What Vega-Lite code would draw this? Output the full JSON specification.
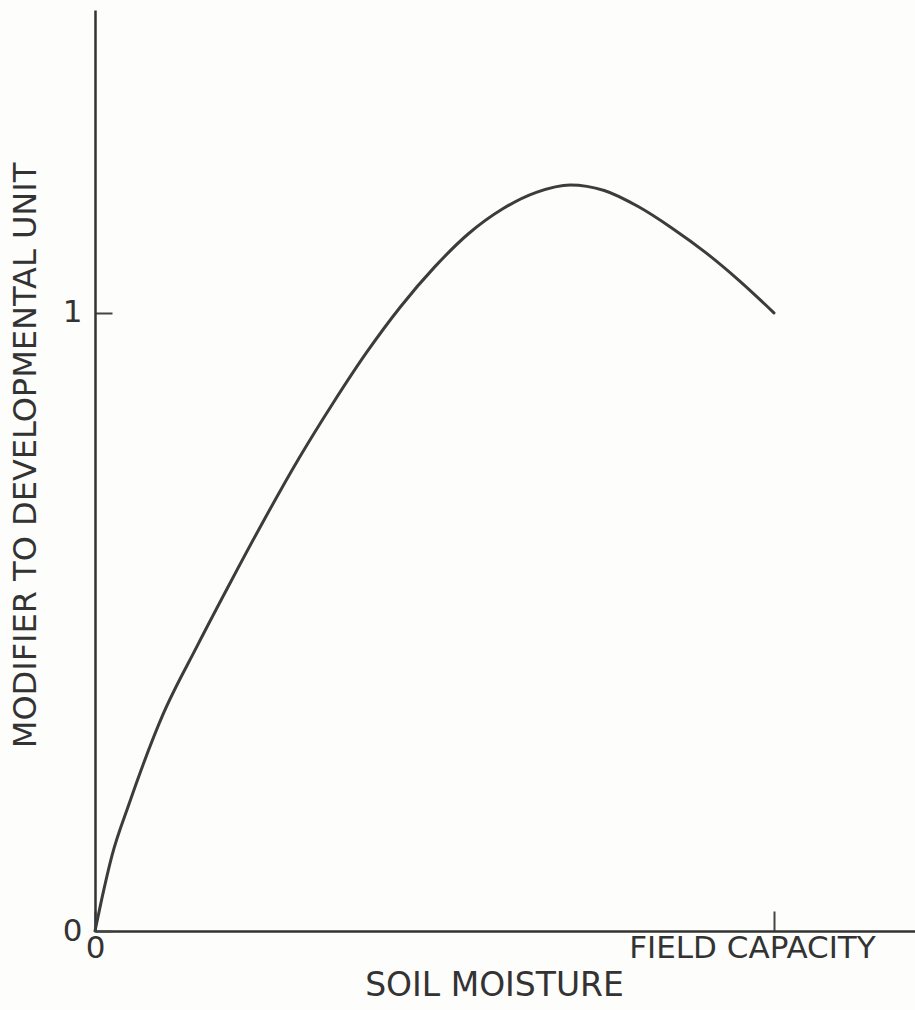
{
  "$schema": "https://vega.github.io/schema/vega-lite/v6.json",
  "width": 820,
  "height": 921,
  "autosize": {"type": "none"},
  "padding": {"left": 95, "top": 10, "right": 0, "bottom": 79},
  "background": "#fdfdfb",
  "config": {"view": {"stroke": null}},
  "data": {"values": [
    {"moisture": 0.0, "modifier": 0.0},
    {"moisture": 0.01, "modifier": 0.052},
    {"moisture": 0.025, "modifier": 0.122},
    {"moisture": 0.05, "modifier": 0.205},
    {"moisture": 0.1, "modifier": 0.35},
    {"moisture": 0.15, "modifier": 0.46},
    {"moisture": 0.2, "modifier": 0.565},
    {"moisture": 0.25, "modifier": 0.667},
    {"moisture": 0.3, "modifier": 0.764},
    {"moisture": 0.35, "modifier": 0.853},
    {"moisture": 0.4, "modifier": 0.936},
    {"moisture": 0.45, "modifier": 1.01},
    {"moisture": 0.5, "modifier": 1.074},
    {"moisture": 0.55, "modifier": 1.128},
    {"moisture": 0.6, "modifier": 1.168},
    {"moisture": 0.65, "modifier": 1.195},
    {"moisture": 0.7, "modifier": 1.207},
    {"moisture": 0.75, "modifier": 1.198},
    {"moisture": 0.8, "modifier": 1.172},
    {"moisture": 0.85, "modifier": 1.137},
    {"moisture": 0.9, "modifier": 1.097},
    {"moisture": 0.95, "modifier": 1.051},
    {"moisture": 1.0, "modifier": 1.0}
  ]},
  "mark": {"type": "line", "interpolate": "monotone", "color": "#3c3c3c", "strokeWidth": 3, "strokeCap": "round"},
  "encoding": {
    "x": {
      "field": "moisture", "type": "quantitative",
      "scale": {"domain": [0, 1.2077], "nice": false, "zero": true},
      "axis": {
        "values": [0, 1],
        "grid": false,
        "domainColor": "#333333", "domainWidth": 2.5,
        "tickColor": "#444444", "tickWidth": 2, "tickSize": -20,
        "labelExpr": "datum.value == 0 ? '0' : 'FIELD CAPACITY'",
        "labelFont": "DejaVu Sans", "labelFontSize": 31, "labelColor": "#333333",
        "labelPadding": 22, "labelFlush": false, "labelOverlap": false, "labelLimit": 0,
        "labelOffset": {"condition": {"test": "datum.value == 1", "value": -22}, "value": 0},
        "title": "SOIL MOISTURE",
        "titleFont": "DejaVu Sans", "titleFontSize": 33, "titleFontWeight": "normal", "titleColor": "#333333",
        "titleX": 399, "titleY": 54, "titleBaseline": "middle", "titleAlign": "center"
      }
    },
    "y": {
      "field": "modifier", "type": "quantitative",
      "scale": {"domain": [0, 1.49], "nice": false, "zero": true},
      "axis": {
        "values": [0, 1],
        "grid": false,
        "domainColor": "#333333", "domainWidth": 2.5,
        "tickColor": "#444444", "tickWidth": 2, "tickSize": -17,
        "labelFont": "DejaVu Sans", "labelFontSize": 31, "labelColor": "#333333",
        "labelPadding": 30, "labelBaseline": "middle", "labelAlign": "right", "labelOverlap": false,
        "title": "MODIFIER TO DEVELOPMENTAL UNIT",
        "titleFont": "DejaVu Sans", "titleFontSize": 32, "titleFontWeight": "normal", "titleColor": "#333333",
        "titleX": -70, "titleY": 445, "titleBaseline": "middle", "titleAlign": "center", "titleAngle": -90
      }
    }
  }
}
